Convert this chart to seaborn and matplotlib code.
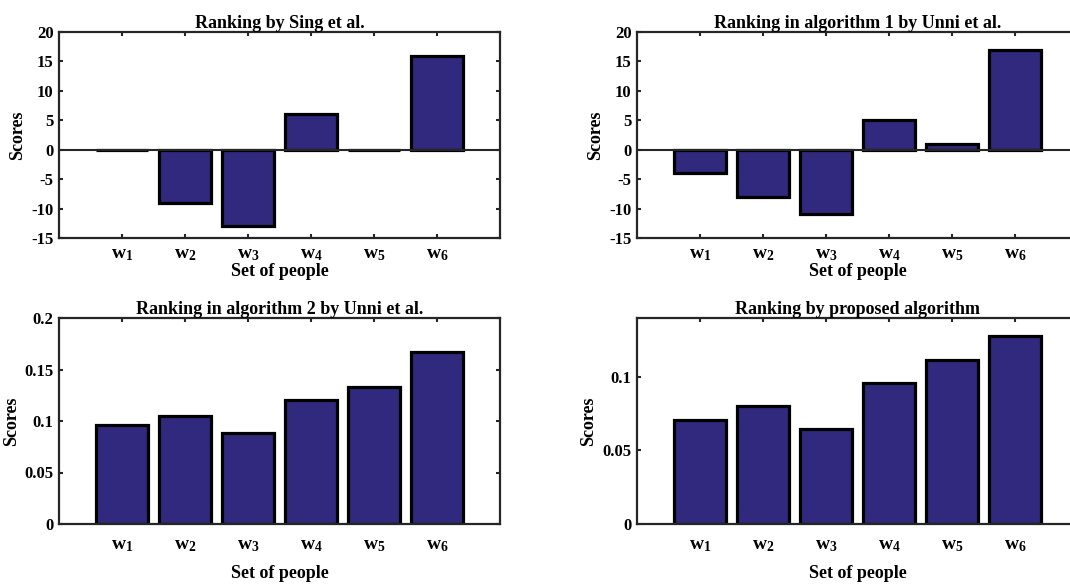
import numpy as np
import pandas as pd
import matplotlib
matplotlib.use('Agg')
import matplotlib.pyplot as plt
import seaborn as sns

people = ['w1', 'w2', 'w3', 'w4', 'w5', 'w6']
tick_labels = [r'$\mathrm{w}_{1}$', r'$\mathrm{w}_{2}$', r'$\mathrm{w}_{3}$',
               r'$\mathrm{w}_{4}$', r'$\mathrm{w}_{5}$', r'$\mathrm{w}_{6}$']

sing_scores = [0, -9, -13, 6, 0, 16]
unni1_scores = [-4, -8, -11, 5, 1, 17]
unni2_scores = [0.096, 0.105, 0.088, 0.120, 0.133, 0.167]
proposed_scores = [0.071, 0.0805, 0.0645, 0.0955, 0.1115, 0.1275]

titles = ['Ranking by Sing et al.', 'Ranking in algorithm 1 by Unni et al.',
          'Ranking in algorithm 2 by Unni et al.', 'Ranking by proposed algorithm']

sns.set_style('ticks')
plt.rcParams['font.family'] = ['Liberation Serif', 'DejaVu Serif']
plt.rcParams['font.weight'] = 'bold'
plt.rcParams['axes.labelweight'] = 'bold'
plt.rcParams['axes.titleweight'] = 'bold'
plt.rcParams['text.color'] = 'black'
plt.rcParams['axes.labelcolor'] = 'black'
plt.rcParams['xtick.labelcolor'] = 'black'
plt.rcParams['ytick.labelcolor'] = 'black'
plt.rcParams['mathtext.fontset'] = 'custom'
plt.rcParams['mathtext.rm'] = 'Liberation Serif:bold'
plt.rcParams['mathtext.it'] = 'Liberation Serif:bold'
plt.rcParams['mathtext.bf'] = 'Liberation Serif:bold'

bar_color = '#30297d'
spine_color = '#262626'

fig = plt.figure(figsize=(10.7, 5.86), dpi=100)

W, H = 1070, 586
def px_axes(left, top, right, bottom):
    return fig.add_axes([left / W, 1 - bottom / H, (right - left) / W, (bottom - top) / H])

axes = [px_axes(59, 32, 500, 238), px_axes(637, 32, 1078, 238),
        px_axes(59, 318, 500, 524), px_axes(637, 318, 1078, 524)]
data = [sing_scores, unni1_scores, unni2_scores, proposed_scores]

for i, (ax, vals) in enumerate(zip(axes, data)):
    df = pd.DataFrame({'person': people, 'score': vals})
    sns.barplot(data=df, x='person', y='score', ax=ax, color=bar_color, saturation=1,
                edgecolor='black', linewidth=2.3, width=0.82)
    ax.set_xlim(-1, 6)
    ax.set_xticks(range(6))
    ax.set_xticklabels(tick_labels)
    if i < 2:
        ax.set_ylim(-15, 20)
        ax.set_yticks(np.arange(-15, 21, 5))
        ax.set_yticklabels([str(v) for v in range(-15, 21, 5)])
        ax.axhline(0, color=spine_color, lw=1.5, zorder=1)
        ax.xaxis.set_label_coords(0.5, -0.12)
        ax.tick_params(axis='x', pad=6)
        ax.yaxis.set_label_coords(-0.075, 0.5)
    elif i == 2:
        ax.set_ylim(0, 0.2)
        ax.set_yticks([0, 0.05, 0.1, 0.15, 0.2])
        ax.set_yticklabels(['0', '0.05', '0.1', '0.15', '0.2'])
        ax.xaxis.set_label_coords(0.5, -0.2)
        ax.tick_params(axis='x', pad=9)
        ax.yaxis.set_label_coords(-0.088, 0.5)
    else:
        ax.set_ylim(0, 0.14)
        ax.set_yticks([0, 0.05, 0.1])
        ax.set_yticklabels(['0', '0.05', '0.1'])
        ax.xaxis.set_label_coords(0.5, -0.2)
        ax.tick_params(axis='x', pad=9)
        ax.yaxis.set_label_coords(-0.09, 0.5)
    ax.set_xlabel('Set of people', fontsize=13, fontweight='bold')
    ax.set_ylabel('Scores', fontsize=13, fontweight='bold')
    ax.set_title(titles[i], fontsize=13, fontweight='bold', pad=3)
    ax.tick_params(axis='both', direction='in', length=3, width=1.5, color=spine_color,
                   top=True, right=True, labelsize=12)
    ax.tick_params(axis='x', labelsize=14)
    ax.tick_params(axis='y', pad=4)
    for s in ax.spines.values():
        s.set_visible(True)
        s.set_color(spine_color)
        s.set_linewidth(1.6)

fig.savefig('out.png', dpi=100)
